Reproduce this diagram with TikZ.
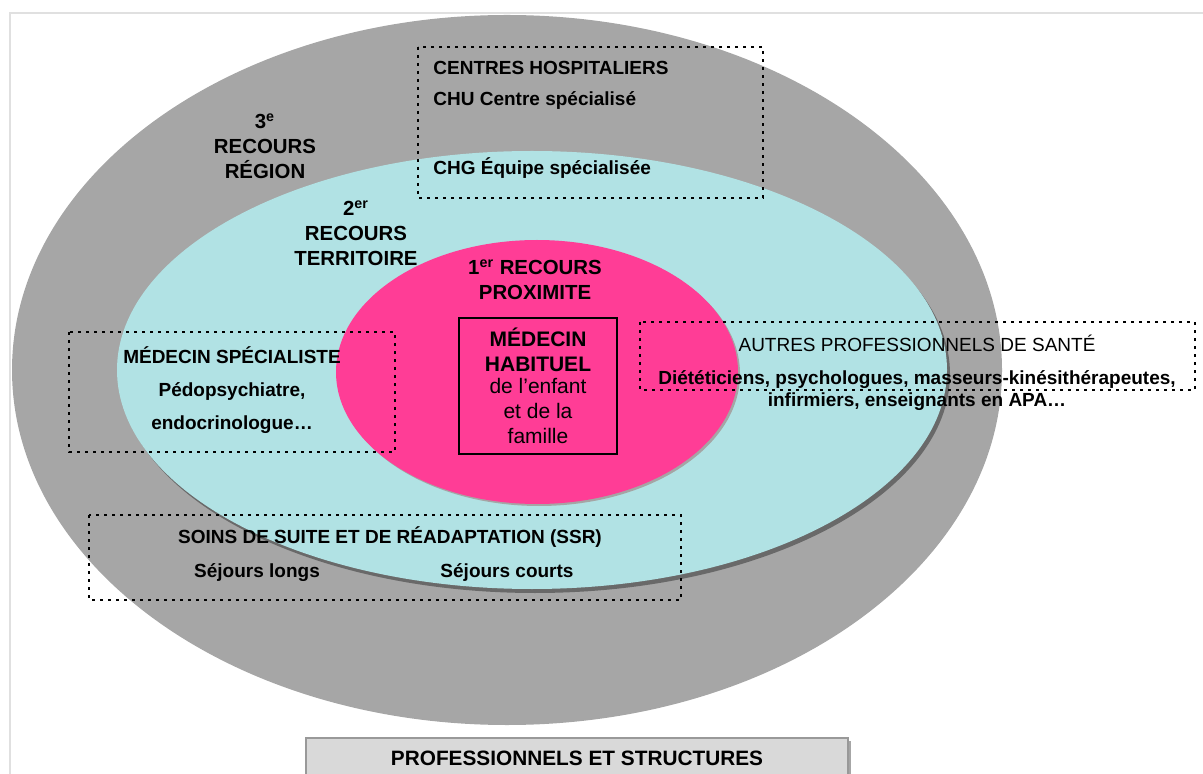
\documentclass[tikz,border=0pt]{standalone}
\usepackage{fontspec}
\setmainfont{Liberation Sans}
\usetikzlibrary{positioning}

\definecolor{ringgray}{RGB}{166,166,166}
\definecolor{ringcyan}{RGB}{177,226,228}
\definecolor{ringpink}{RGB}{255,61,150}
\definecolor{shadegray}{RGB}{105,105,105}
\definecolor{framegray}{RGB}{224,224,224}
\definecolor{tabgray}{RGB}{217,217,217}

\begin{document}
\begin{tikzpicture}[x=0.5pt,y=-0.5pt,
    lbl/.style={font=\bfseries\fontsize{9.5}{12.5}\selectfont, align=center, inner sep=0pt},
    txt/.style={font=\fontsize{9.5}{12.5}\selectfont, align=center, inner sep=0pt},
    level/.style={font=\bfseries\fontsize{10.2}{12.5}\selectfont, align=center, inner sep=0pt},
    dotbox/.style={draw=black, line width=1.3pt, dash pattern=on 1.3pt off 2.7pt}]
	\useasboundingbox (0,0) rectangle (1203,774);
	% frame
	\draw[framegray, line width=1.2pt] (10,774)--(10,13)--(1203,13);
	% rings
	\fill[ringgray] (507,370) ellipse [x radius=495, y radius=355];
	\fill[shadegray] (535,374) ellipse [x radius=415, y radius=219];
	\fill[ringcyan] (532,370) ellipse [x radius=415, y radius=219];
	\fill[shadegray!60] (539,374) ellipse [x radius=201, y radius=132];
	\fill[ringpink] (537,372) ellipse [x radius=201, y radius=132];
	% level labels
	\node[level] (third) at (265,146) {3\textsuperscript{e}\\RECOURS\\RÉGION};
	\node[level] (second) at (356,233) {2\textsuperscript{er}\\RECOURS\\TERRITOIRE};
	\node[level] (first) at (535,280) {1\textsuperscript{er} RECOURS\\PROXIMITE};
	% hospitals
	\draw[dotbox] (418,47) rectangle (763,198);
	\node[lbl, anchor=west] (chtitle) at (433,68) {CENTRES HOSPITALIERS};
	\node[lbl, anchor=west] (chu) at (433,101) {CHU Centre spécialisé};
	\node[lbl, anchor=west] (chg) at (433,168) {CHG Équipe spécialisée};
	% family doctor
	\draw[black, line width=1.2pt] (459,318) rectangle (617,454);
	\node[level, font=\bfseries\fontsize{10.5}{12.3}\selectfont] (habituel) at (538,350) {MÉDECIN\\HABITUEL};
	\node[txt, font=\fontsize{10.5}{12.3}\selectfont] (enfant) at (538,411) {de l'enfant\\et de la\\famille};
	% specialist
	\draw[dotbox] (69,332) rectangle (395,452);
	\node[lbl, font=\bfseries\fontsize{9.5}{16.5}\selectfont] (specialiste) at (232,390)
		{MÉDECIN SPÉCIALISTE\\Pédopsychiatre,\\endocrinologue…};
	% other professionals
	\draw[dotbox] (640,322) rectangle (1195,390);
	\node[txt] (autres) at (917,343) {AUTRES PROFESSIONNELS DE SANTÉ};
	\node[lbl, font=\bfseries\fontsize{9.5}{11}\selectfont] (metiers) at (917,391)
		{Diététiciens, psychologues, masseurs-kinésithérapeutes,\\infirmiers, enseignants en APA…};
	% SSR
	\draw[dotbox] (89,515) rectangle (681,600);
	\node[lbl] (ssr) at (390,537) {SOINS DE SUITE ET DE RÉADAPTATION (SSR)};
	\node[lbl] (longs) at (257,573) {Séjours longs};
	\node[lbl] (courts) at (507,573) {Séjours courts};
	% caption
	\fill[gray!70] (309,741) rectangle (851,790);
	\draw[fill=tabgray, draw=gray!80, line width=0.6pt] (306,738) rectangle (848,790);
	\node[level, font=\bfseries\fontsize{10.4}{12.5}\selectfont] (legende) at (577,758) {PROFESSIONNELS ET STRUCTURES};
\end{tikzpicture}
\end{document}
